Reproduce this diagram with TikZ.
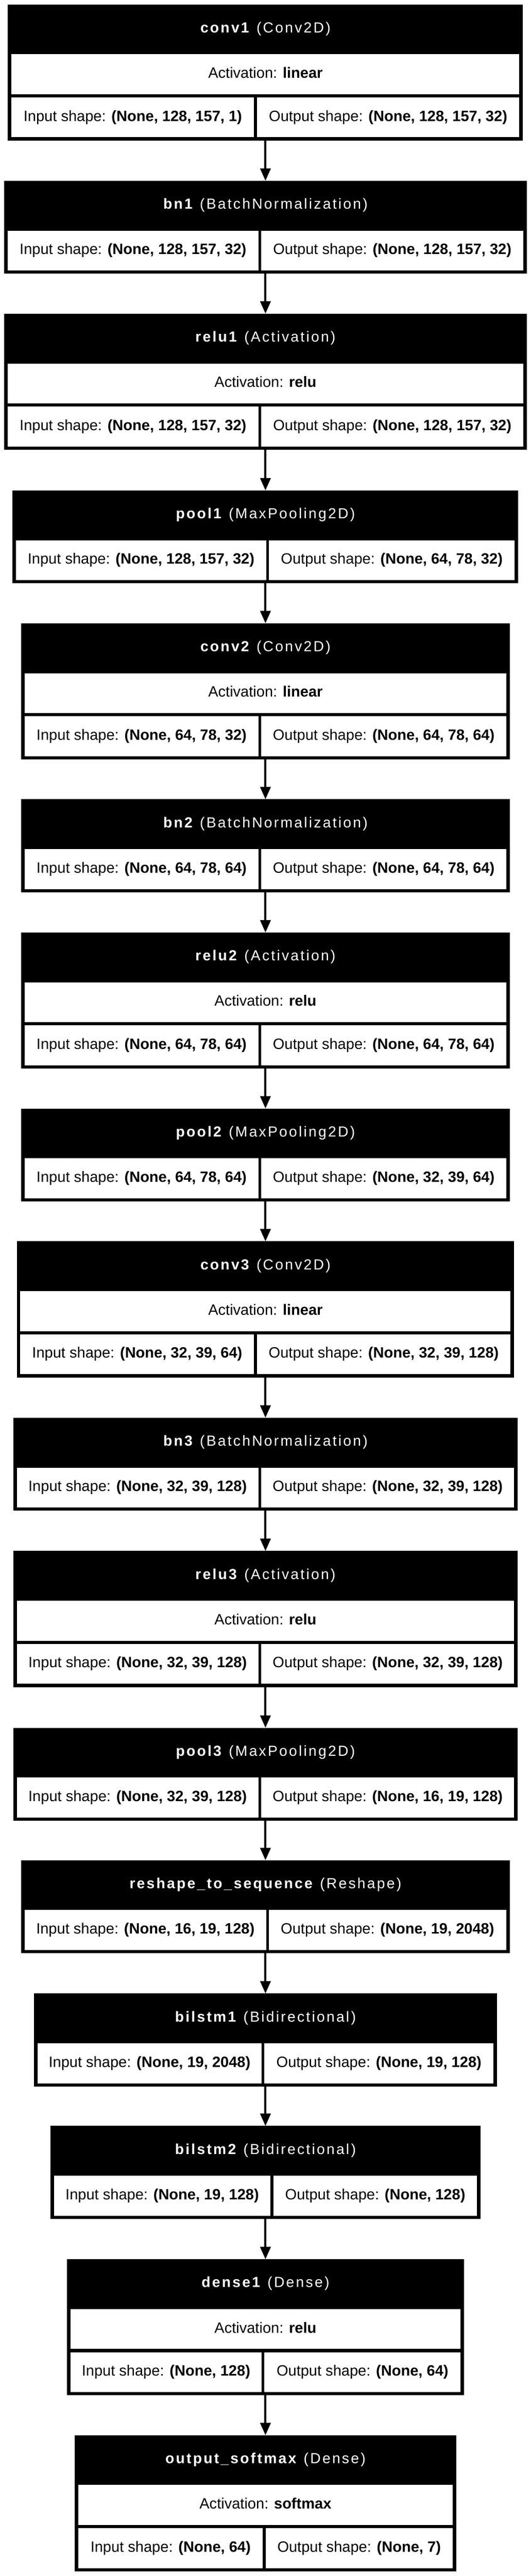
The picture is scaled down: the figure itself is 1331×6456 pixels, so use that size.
\documentclass[tikz,border=0pt]{standalone}
\usepackage{fontspec}
\setmainfont{Liberation Sans}
\newfontfamily\headfont{Liberation Sans}[LetterSpace=11.5]
\usetikzlibrary{arrows.meta,positioning}

% cells of one layer: name, row centre, half width, divider, input, output
\newcommand{\shapecells}[6]{%
  \node[cell, minimum width=#4-665.5+#3-12.5] (#1-in) at ({(665.5-#3+9+#4-3.5)/2},#2) {Input shape: \textbf{#5}};
  \node[cell, minimum width=665.5+#3-#4-12.5] (#1-out) at ({(#4+3.5+665.5+#3-9)/2},#2) {Output shape: \textbf{#6}};}
% name, top, half width, divider, header, activation, input, output
\newcommand{\actlayer}[8]{%
  \node[layerbox, minimum width=2*#3, minimum height=341] (#1) at (665.5,#2) {};
  \node[headtext] (#1-h) at (665.5,#2+70.7) {#5};
  \node[cell, minimum width=2*#3-18] (#1-a) at (665.5,#2+175) {Activation: \textbf{#6}};
  \shapecells{#1}{#2+283}{#3}{#4}{#7}{#8}}
% name, top, half width, divider, header, input, output
\newcommand{\plainlayer}[7]{%
  \node[layerbox, minimum width=2*#3, minimum height=233] (#1) at (665.5,#2) {};
  \node[headtext] (#1-h) at (665.5,#2+70.7) {#5};
  \shapecells{#1}{#2+175}{#3}{#4}{#6}{#7}}

\begin{document}
\begin{tikzpicture}[x=1pt, y=-1pt,
    layerbox/.style={fill=black, anchor=north, inner sep=0, outer sep=0},
    headtext/.style={anchor=base, text=white, inner sep=0, font=\headfont\fontsize{36.5}{40}\selectfont},
    cell/.style={fill=white, inner sep=0, outer sep=0, minimum height=100, text height=27pt, text depth=8pt, font=\fontsize{37.5}{42}\selectfont},
    arr/.style={-{Triangle[length=31pt,width=26pt]}, line width=5pt}]
  \fill[white] (0,0) rectangle (1331,6456);

  \actlayer{conv1}{11}{645.5}{640.5}{\textbf{conv1} (Conv2D)}{linear}{(None, 128, 157, 1)}{(None, 128, 157, 32)}
  \plainlayer{bn1}{453}{655.5}{651.5}{\textbf{bn1} (BatchNormalization)}{(None, 128, 157, 32)}{(None, 128, 157, 32)}
  \actlayer{relu1}{786}{655.5}{651.5}{\textbf{relu1} (Activation)}{relu}{(None, 128, 157, 32)}{(None, 128, 157, 32)}
  \plainlayer{pool1}{1229}{634}{670.5}{\textbf{pool1} (MaxPooling2D)}{(None, 128, 157, 32)}{(None, 64, 78, 32)}
  \actlayer{conv2}{1562}{612.5}{651.5}{\textbf{conv2} (Conv2D)}{linear}{(None, 64, 78, 32)}{(None, 64, 78, 64)}
  \plainlayer{bn2}{2003}{612.5}{651.5}{\textbf{bn2} (BatchNormalization)}{(None, 64, 78, 64)}{(None, 64, 78, 64)}
  \actlayer{relu2}{2337}{612.5}{651.5}{\textbf{relu2} (Activation)}{relu}{(None, 64, 78, 64)}{(None, 64, 78, 64)}
  \plainlayer{pool2}{2778}{612.5}{651.5}{\textbf{pool2} (MaxPooling2D)}{(None, 64, 78, 64)}{(None, 32, 39, 64)}
  \actlayer{conv3}{3111}{623.5}{640.5}{\textbf{conv3} (Conv2D)}{linear}{(None, 32, 39, 64)}{(None, 32, 39, 128)}
  \plainlayer{bn3}{3553}{632.5}{651.5}{\textbf{bn3} (BatchNormalization)}{(None, 32, 39, 128)}{(None, 32, 39, 128)}
  \actlayer{relu3}{3887}{632.5}{651.5}{\textbf{relu3} (Activation)}{relu}{(None, 32, 39, 128)}{(None, 32, 39, 128)}
  \plainlayer{pool3}{4330}{632.5}{651.5}{\textbf{pool3} (MaxPooling2D)}{(None, 32, 39, 128)}{(None, 16, 19, 128)}
  \plainlayer{reshape}{4662}{612.5}{670.5}{\textbf{reshape\_to\_sequence} (Reshape)}{(None, 16, 19, 128)}{(None, 19, 2048)}
  \plainlayer{bilstm1}{4996}{580.5}{659.5}{\textbf{bilstm1} (Bidirectional)}{(None, 19, 2048)}{(None, 19, 128)}
  \plainlayer{bilstm2}{5328}{539.5}{682}{\textbf{bilstm2} (Bidirectional)}{(None, 19, 128)}{(None, 128)}
  \actlayer{dense1}{5662}{498}{659.5}{\textbf{dense1} (Dense)}{relu}{(None, 128)}{(None, 64)}
  \actlayer{out}{6103}{478}{662.5}{\textbf{output\_softmax} (Dense)}{softmax}{(None, 64)}{(None, 7)}

  \draw[arr] (conv1) -- (bn1);
  \draw[arr] (bn1) -- (relu1);
  \draw[arr] (relu1) -- (pool1);
  \draw[arr] (pool1) -- (conv2);
  \draw[arr] (conv2) -- (bn2);
  \draw[arr] (bn2) -- (relu2);
  \draw[arr] (relu2) -- (pool2);
  \draw[arr] (pool2) -- (conv3);
  \draw[arr] (conv3) -- (bn3);
  \draw[arr] (bn3) -- (relu3);
  \draw[arr] (relu3) -- (pool3);
  \draw[arr] (pool3) -- (reshape);
  \draw[arr] (reshape) -- (bilstm1);
  \draw[arr] (bilstm1) -- (bilstm2);
  \draw[arr] (bilstm2) -- (dense1);
  \draw[arr] (dense1) -- (out);
\end{tikzpicture}
\end{document}
